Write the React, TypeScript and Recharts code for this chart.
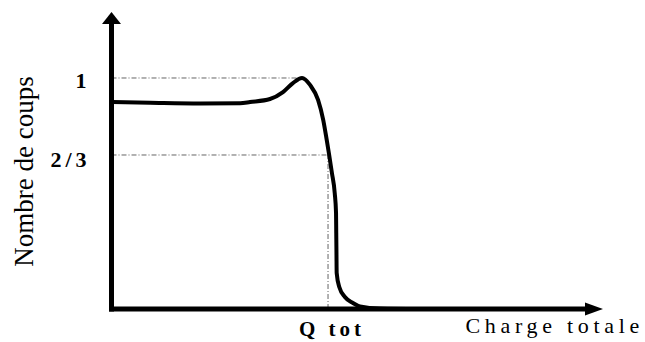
import React from "react";
import { LineChart, Line, XAxis, YAxis, ReferenceLine, ReferenceDot } from "recharts";

// Charge (x, Qtot = 1) and normalised count (y, max = 1)
const charge = [0, 0.178, 0.409, 0.594, 0.64, 0.732, 0.792, 0.838, 0.88, 0.917, 0.954, 0.978, 0.994, 1.005, 1.018, 1.031, 1.037, 1.038, 1.039, 1.04, 1.052, 1.078, 1.115, 1.148, 1.24, 1.425];
const counts = [0.896, 0.893, 0.89, 0.891, 0.896, 0.909, 0.939, 0.978, 1.0, 0.97, 0.905, 0.818, 0.732, 0.669, 0.589, 0.502, 0.416, 0.329, 0.242, 0.156, 0.095, 0.052, 0.026, 0.011, 0.002, 0];

const yTicks = [2 / 3, 1];
const yTickLabels = ["2/3", "1"];
const xTicks = [1];
const xTickLabels = ["Q tot"];
const xTitle = "Charge totale";
const yTitle = "Nombre de coups";

const peakCharge = 0.88;
const xMax = 2.27;
const yMax = 1.2857;

const data = charge.map((c, i) => ({ q: c, n: counts[i] }));

const FONT = "'Liberation Serif', 'Times New Roman', serif";
const DASH = "5 2 1 2";

const YTick = (props: any) => {
  const { x, y, payload } = props;
  const idx = yTicks.indexOf(payload.value);
  const label = idx >= 0 ? yTickLabels[idx] : "";
  return (
    <text x={x - 21} y={y + (payload.value === 1 ? 10 : 12)} textAnchor="end" style={{ fontFamily: FONT, fontWeight: "bold", fontSize: 22, letterSpacing: 4 }} fill="#000">
      {label}
    </text>
  );
};

const XTick = (props: any) => {
  const { x, y, payload } = props;
  const idx = xTicks.indexOf(payload.value);
  const label = idx >= 0 ? xTickLabels[idx] : "";
  return (
    <text x={x + 4} y={y + 27} textAnchor="middle" style={{ fontFamily: FONT, fontWeight: "bold", fontSize: 21, letterSpacing: 4 }} fill="#000">
      {label}
    </text>
  );
};

const XTitle = (props: any) => {
  const vb = props.viewBox || {};
  return (
    <text x={vb.x + vb.width + 41} y={vb.y + 24} textAnchor="end" style={{ fontFamily: FONT, fontSize: 22, letterSpacing: 4.7 }} fill="#000">
      {xTitle}
    </text>
  );
};

const YTitle = (props: any) => {
  const vb = props.viewBox || {};
  const cx = 33;
  const cy = vb.y + vb.height / 2 + 11;
  return (
    <text x={cx} y={cy} transform={`rotate(-90, ${cx}, ${cy})`} textAnchor="middle" style={{ fontFamily: FONT, fontSize: 27 }} fill="#000">
      {yTitle}
    </text>
  );
};

const XArrow = (props: any) => {
  const { cx, cy } = props;
  return <polygon points={`${cx},${cy} ${cx - 18},${cy - 6.5} ${cx - 18},${cy + 6.5}`} fill="#000" />;
};

const YArrow = (props: any) => {
  const { cx, cy } = props;
  return <polygon points={`${cx},${cy} ${cx - 9.5},${cy + 12} ${cx + 9.5},${cy + 12}`} fill="#000" />;
};

export default function App() {
  return (
    <div style={{ position: "absolute", left: 0, top: 0, width: 645, height: 342, background: "#fff" }}>
      <LineChart width={645} height={342} data={data} margin={{ top: 12, right: 42, bottom: 0, left: 0 }}>
        <XAxis
          dataKey="q"
          type="number"
          domain={[0, xMax]}
          ticks={xTicks}
          tick={<XTick />}
          tickLine={false}
          axisLine={false}
          tickSize={0}
          tickMargin={0}
          height={33}
          label={<XTitle />}
        />
        <YAxis
          type="number"
          domain={[0, yMax]}
          ticks={yTicks}
          tick={<YTick />}
          tickLine={false}
          axisLine={false}
          tickSize={0}
          tickMargin={0}
          width={111.5}
          label={<YTitle />}
        />
        <ReferenceLine segment={[{ x: 0, y: 1 }, { x: peakCharge, y: 1 }]} stroke="#666" strokeWidth={1} strokeDasharray={DASH} ifOverflow="visible" />
        <ReferenceLine segment={[{ x: 0, y: 2 / 3 }, { x: 1, y: 2 / 3 }]} stroke="#666" strokeWidth={1} strokeDasharray={DASH} ifOverflow="visible" />
        <ReferenceLine segment={[{ x: 1, y: 0 }, { x: 1, y: 2 / 3 }]} stroke="#666" strokeWidth={1} strokeDasharray={DASH} ifOverflow="visible" />
        <Line dataKey="n" type="monotone" stroke="#000" strokeWidth={4} dot={false} activeDot={false} isAnimationActive={false} />
        <ReferenceLine segment={[{ x: -0.0115, y: 0 }, { x: 2.187, y: 0 }]} stroke="#000" strokeWidth={5} ifOverflow="visible" />
        <ReferenceLine segment={[{ x: 0, y: -0.0108 }, { x: 0, y: 1.234 }]} stroke="#000" strokeWidth={5} ifOverflow="visible" />
        <ReferenceDot x={xMax} y={0} r={1} shape={<XArrow />} ifOverflow="visible" />
        <ReferenceDot x={0} y={yMax} r={1} shape={<YArrow />} ifOverflow="visible" />
      </LineChart>
    </div>
  );
}
